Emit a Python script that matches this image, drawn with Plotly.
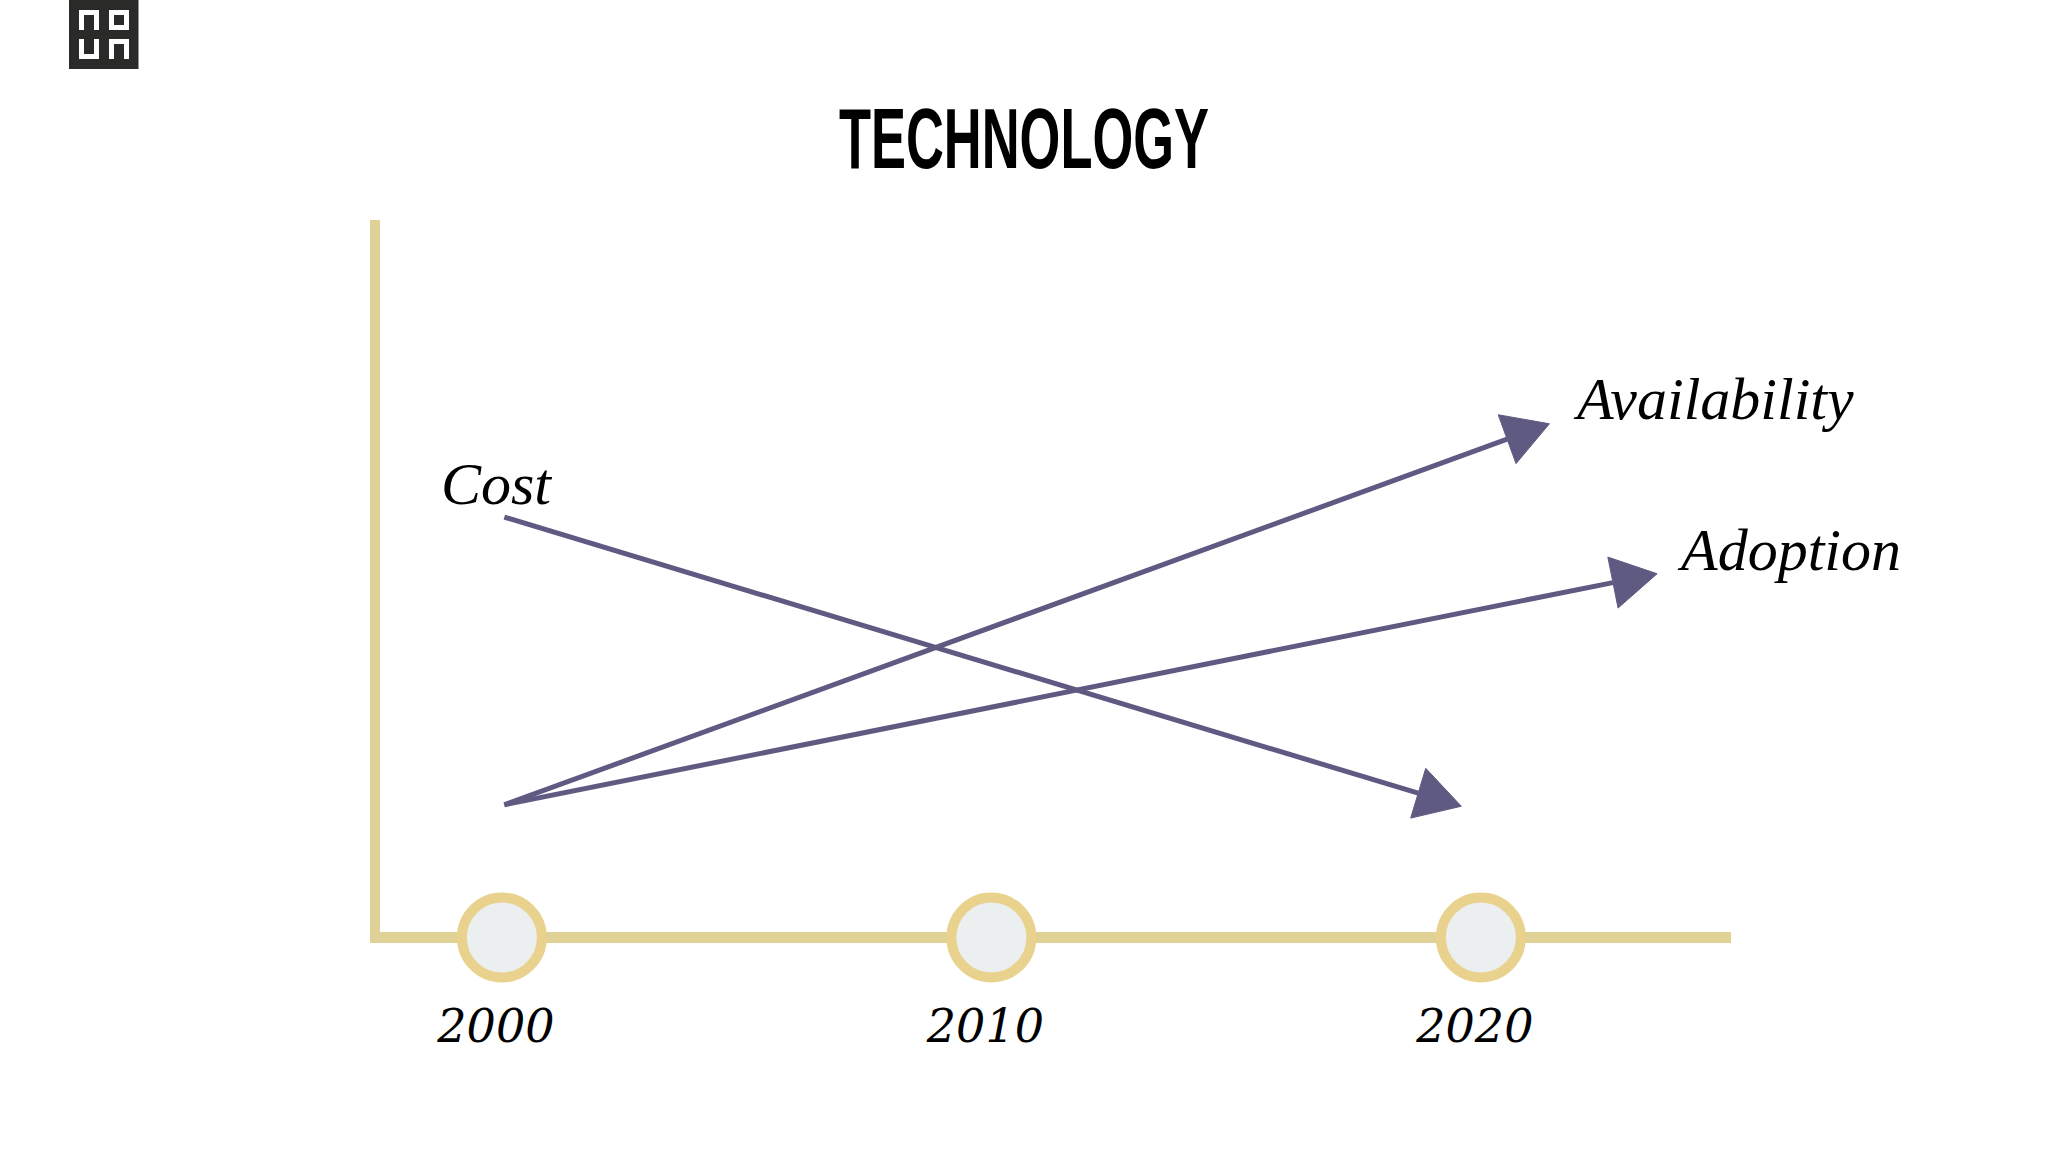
import math
import plotly.graph_objects as go

# === DATA ===
years = [2000, 2010, 2020]
year_labels = ["2000", "2010", "2020"]

cost_x = [2000.05, 2019.6]
cost_y = [58.6, 18.3]
availability_x = [2000.05, 2021.4]
availability_y = [18.5, 71.6]
adoption_x = [2000.05, 2023.6]
adoption_y = [18.5, 50.7]

series_names = ["Cost", "Availability", "Adoption"]

# === CONFIG ===
W, H = 2048, 1152
PLOT_L, PLOT_R, PLOT_T, AXIS_B, PLOT_B = 380, 1731, 220, 932, 1000
X_RANGE = [1997.51, 2025.11]
Y_RANGE = [0.77, 100]
GOLD = "#e0d196"
RING = "#e8d28e"
PURPLE = "#5f5a82"

px_x = (PLOT_R - PLOT_L) / (X_RANGE[1] - X_RANGE[0])
px_y = (AXIS_B - PLOT_T) / (Y_RANGE[1] - Y_RANGE[0])

# the page has to start at the window corner, and the title font only comes in wide cuts
PAGE_JS = """
document.body.style.margin = '0';
var st = document.createElement('style');
st.textContent = '.gtitle{transform-box:fill-box;transform-origin:center;transform:scaleX(0.61)}';
document.head.appendChild(st);
"""


def to_paper(x, y):
    return (x - PLOT_L) / (PLOT_R - PLOT_L), (PLOT_B - y) / (PLOT_B - PLOT_T)


def arrow_parts(xs, ys, length=45, width=52):
    # head is worked out in pixels so it keeps its shape on the uneven axes
    dx = (xs[1] - xs[0]) * px_x
    dy = (ys[1] - ys[0]) * px_y
    d = math.hypot(dx, dy)
    ux, uy = dx / d, dy / d
    base_x = xs[1] - ux * length / px_x
    base_y = ys[1] - uy * length / px_y
    c1 = (base_x - uy * width / 2 / px_x, base_y + ux * width / 2 / px_y)
    c2 = (base_x + uy * width / 2 / px_x, base_y - ux * width / 2 / px_y)
    return (base_x, base_y), c1, c2


fig = go.Figure()

# Lines and arrow heads
for xs, ys in [(cost_x, cost_y), (availability_x, availability_y), (adoption_x, adoption_y)]:
    base, c1, c2 = arrow_parts(xs, ys)
    fig.add_trace(go.Scatter(
        x=[xs[0], base[0]], y=[ys[0], base[1]],
        mode="lines", line=dict(color=PURPLE, width=5),
        cliponaxis=False, hoverinfo="skip",
    ))
    fig.add_trace(go.Scatter(
        x=[xs[1], c1[0], c2[0], xs[1]], y=[ys[1], c1[1], c2[1], ys[1]],
        mode="lines", fill="toself", fillcolor=PURPLE, line=dict(color=PURPLE, width=1),
        cliponaxis=False, hoverinfo="skip",
    ))

# Year circles sit on their own hidden axes, centred on the gold line
fig.add_trace(go.Scatter(
    x=years, y=[0, 0, 0],
    xaxis="x2", yaxis="y2",
    mode="markers",
    marker=dict(size=80, color="#ecefef", line=dict(color=RING, width=10)),
    cliponaxis=False, hoverinfo="skip",
))

# Logo
logo = [dict(x0=69, y0=0, x1=138.5, y1=69, fill="#2a2a28")]
for x0, y0, flip in [(79, 10, False), (109, 39, False), (79, 39, True)]:
    x1, y1 = x0 + 20, y0 + 20
    logo.append(dict(x0=x0, y0=y0, x1=x0 + 5, y1=y1, fill="white"))
    logo.append(dict(x0=x1 - 5, y0=y0, x1=x1, y1=y1, fill="white"))
    if flip:
        logo.append(dict(x0=x0, y0=y1 - 5, x1=x1, y1=y1, fill="white"))
    else:
        logo.append(dict(x0=x0, y0=y0, x1=x1, y1=y0 + 5, fill="white"))
logo.append(dict(x0=109, y0=10, x1=129, y1=30, fill="white"))
logo.append(dict(x0=114, y0=15, x1=124, y1=25, fill="#2a2a28"))

shapes = []
for s in logo:
    xa, ya = to_paper(s["x0"], s["y0"])
    xb, yb = to_paper(s["x1"], s["y1"])
    shapes.append(dict(type="rect", xref="paper", yref="paper", x0=xa, y0=ya, x1=xb, y1=yb,
                       fillcolor=s["fill"], line=dict(width=0), layer="above"))

# Series labels
label_pos = [(439, 484), (1571, 399), (1675, 550)]
annotations = []
for name, (lx, ly) in zip(series_names, label_pos):
    ax, ay = to_paper(lx, ly)
    annotations.append(dict(
        text=name, x=ax, y=ay, xref="paper", yref="paper",
        xanchor="left", yanchor="middle", showarrow=False,
        font=dict(family="Liberation Serif", size=60, color="black", style="italic"),
    ))

fig.update_layout(
    width=W, height=H,
    margin=dict(l=PLOT_L, r=W - PLOT_R, t=PLOT_T, b=H - PLOT_B),
    paper_bgcolor="white",
    plot_bgcolor="rgba(0,0,0,0)",  # the circle axes overlap the main plot, a solid bg hides the line
    showlegend=False,
    title=dict(
        text="TECHNOLOGY", x=0.5, xanchor="center", y=1 - 138 / H, yanchor="middle",
        font=dict(family="Liberation Sans", size=86, color="black", weight="bold"),
    ),
    shapes=shapes,
    annotations=annotations,
    yaxis=dict(
        domain=[(PLOT_B - AXIS_B) / (PLOT_B - PLOT_T), 1],
        range=Y_RANGE, showticklabels=False, showgrid=False, zeroline=False,
        showline=True, linecolor=GOLD, linewidth=10, ticks="",
    ),
    xaxis=dict(
        anchor="y",
        range=X_RANGE, tickvals=years, ticktext=year_labels, showgrid=False, zeroline=False,
        showline=True, linecolor=GOLD, linewidth=11, ticks="",
        ticklabelstandoff=44, ticklabelshift=-6,
        tickfont=dict(family="DejaVu Serif", size=46, color="black", style="italic"),
    ),
    yaxis2=dict(
        domain=[0, (PLOT_B - 880) / (PLOT_B - PLOT_T)],
        range=[-62.5, 57.5], visible=False, anchor="x2",
    ),
    xaxis2=dict(range=X_RANGE, visible=False, anchor="y2"),
)

fig.write_html("out.html", post_script=PAGE_JS, config={"displayModeBar": False})
